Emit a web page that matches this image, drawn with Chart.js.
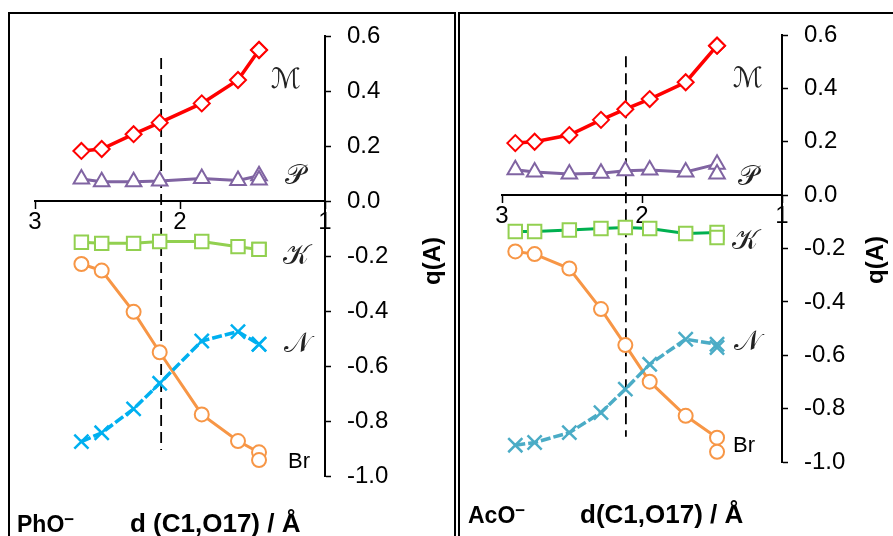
<!DOCTYPE html>
<html>
<head>
<meta charset="utf-8">
<script src="https://cdn.jsdelivr.net/npm/chart.js@4"></script>
<style>
  body { margin: 0; background: #fff; width: 893px; height: 536px; overflow: hidden; position: relative; font-family: "Liberation Sans", Arial, sans-serif; }
  .panel { position: absolute; top: 12px; border: 2px solid #000; border-bottom: none; height: 540px; box-sizing: border-box; }
  .panel canvas { position: absolute; left: 0; top: 0; }
  .txt { position: absolute; white-space: nowrap; line-height: 1; color: #000; }
  .bold { font-weight: bold; }
  .c { transform: translate(-50%, -50%); }
  .script { font-family: "DejaVu Serif", "DejaVu Sans", serif; font-size: 28px; color: #222; }
  .br { font-size: 22px; }
  .ytitle { font-weight: bold; font-size: 24px; transform: translate(-50%, -50%) rotate(-90deg); }
  sup { font-size: 17px; vertical-align: 7px; line-height: 0; }
</style>
</head>
<body>
<div class="panel" id="pLeft" style="left:8px; width:448px;">
  <canvas id="cLeft" width="444" height="524"></canvas>
</div>
<div class="panel" id="pRight" style="left:458px; width:450px; border-right:none;">
  <canvas id="cRight" width="446" height="524"></canvas>
</div>

<!-- rotulos das series -->
<span class="txt script c" style="left:286px; top:79px;">ℳ</span>
<span class="txt script c" style="left:295px; top:175px;">𝒫</span>
<span class="txt script c" style="left:296px; top:255px;">𝒦</span>
<span class="txt script c" style="left:297px; top:343px;">𝒩</span>
<span class="txt br c" style="left:299px; top:461px;">Br</span>

<span class="txt script c" style="left:748px; top:78px;">ℳ</span>
<span class="txt script c" style="left:748px; top:176px;">𝒫</span>
<span class="txt script c" style="left:745px; top:240px;">𝒦</span>
<span class="txt script c" style="left:747px; top:341px;">𝒩</span>
<span class="txt br c" style="left:744px; top:445px;">Br</span>

<span class="txt ytitle" style="left:432px; top:261px;">q(A)</span>
<span class="txt ytitle" style="left:875px; top:260px;">q(A)</span>

<span class="txt bold" style="left:17px; top:513px; font-size:23px;">PhO<sup>−</sup></span>
<span class="txt bold" style="left:130px; top:510px; font-size:26px;">d (C1,O17) / Å</span>
<span class="txt bold" style="left:468px; top:504px; font-size:23px;">AcO<sup>−</sup></span>
<span class="txt bold" style="left:580px; top:501px; font-size:26px;">d(C1,O17) / Å</span>

<script>
// PhO- : distancias e cargas
const phoX  = [2.68, 2.54, 2.32, 2.14, 1.85, 1.60, 1.455, 1.455];
const phoM  = [0.182, 0.189, 0.243, 0.285, 0.355, 0.440, 0.549, 0.549];
const phoP  = [0.080, 0.070, 0.070, 0.073, 0.082, 0.075, 0.092, 0.076];
const phoK  = [-0.150, -0.154, -0.154, -0.147, -0.147, -0.166, -0.176, -0.176];
const phoN  = [-0.875, -0.843, -0.756, -0.663, -0.509, -0.475, -0.521, -0.521];
const phoBr = [-0.229, -0.253, -0.403, -0.550, -0.776, -0.873, -0.914, -0.942];
const phoTS = 2.13;

// AcO- : distancias e cargas
const acoX  = [2.905, 2.767, 2.519, 2.293, 2.119, 1.945, 1.688, 1.464, 1.464];
const acoM  = [0.195, 0.200, 0.225, 0.282, 0.322, 0.360, 0.423, 0.560, 0.560];
const acoP  = [0.095, 0.087, 0.079, 0.082, 0.091, 0.094, 0.087, 0.116, 0.079];
const acoK  = [-0.136, -0.136, -0.131, -0.125, -0.121, -0.125, -0.144, -0.140, -0.159];
const acoN  = [-0.937, -0.927, -0.890, -0.815, -0.727, -0.634, -0.540, -0.559, -0.571];
const acoBr = [-0.211, -0.221, -0.275, -0.427, -0.562, -0.699, -0.827, -0.909, -0.962];
const acoTS = 2.115;

const dashTop = 0.52, dashBottom = -0.905;
const xTicks = [3, 2, 1];
const yMin = -1.0, yMax = 0.6, yStep = 0.2;

function pts(xs, ys) {
  return xs.map((x, i) => ({ x: x, y: ys[i] }));
}

function serie(xs, ys, cor, estilo, raio, extra) {
  return Object.assign({
    data: pts(xs, ys),
    borderColor: cor,
    backgroundColor: '#fff',
    pointBorderColor: cor,
    pointBackgroundColor: '#fff',
    pointStyle: estilo,
    pointRadius: raio,
    pointBorderWidth: 2,
    borderWidth: 3.5,
    showLine: true,
    tension: 0
  }, extra || {});
}

function criaGrafico(id, xs, d, ts, cores, pad) {
  const datasets = [
    serie(xs, d.M, '#ff0000', 'rectRot', 8),
    serie(xs, d.P, '#8064a2', 'triangle', 9, { borderWidth: 3 }),
    serie(xs, d.K, cores.kLine, 'rect', 9.5, { pointBorderColor: '#92d050', borderWidth: 3 }),
    serie(xs.slice(0, d.N.length), d.N, cores.n, 'crossRot', 10, { borderDash: [10, 3], pointBorderWidth: 2.5 }),
    serie(xs, d.Br, '#f79646', 'circle', 7, { borderWidth: 3 }),
    {
      data: [{ x: ts, y: dashTop }, { x: ts, y: dashBottom }],
      borderColor: '#000',
      borderWidth: 1.8,
      borderDash: [11, 6],
      pointRadius: 0,
      showLine: true
    }
  ];

  return new Chart(document.getElementById(id), {
    type: 'scatter',
    data: { datasets: datasets },
    options: {
      responsive: false,
      animation: false,
      layout: { padding: pad },
      plugins: { legend: { display: false }, tooltip: { enabled: false } },
      scales: {
        x: {
          type: 'linear',
          reverse: true,
          min: 1,
          max: 3,
          position: { y: 0 },
          afterBuildTicks: s => { s.ticks = xTicks.map(v => ({ value: v })); },
          afterFit: s => { s.paddingLeft = 0; s.paddingRight = 0; },
          grid: { drawOnChartArea: false, drawTicks: true, tickLength: 7, color: '#000', tickWidth: 1.5 },
          border: { display: true, color: '#000', width: 2 },
          ticks: {
            color: '#000',
            padding: 2,
            maxRotation: 0,
            font: { family: 'Liberation Sans', size: 24, lineHeight: 1 },
            callback: v => String(v)
          }
        },
        y: {
          type: 'linear',
          position: 'right',
          min: yMin,
          max: yMax,
          afterFit: s => { s.width = 70; s.paddingTop = 0; s.paddingBottom = 0; },
          grid: { drawOnChartArea: false, drawTicks: true, tickLength: 6, color: '#000', tickWidth: 1.5 },
          border: { display: true, color: '#000', width: 2 },
          ticks: {
            stepSize: yStep,
            color: '#000',
            padding: 16,
            font: { family: 'Liberation Sans', size: 24, lineHeight: 1 },
            callback: v => Math.abs(v) < 1e-9 ? '0.0' : Number(v).toFixed(1)
          }
        }
      }
    }
  });
}

criaGrafico('cLeft', phoX,
  { M: phoM, P: phoP, K: phoK, N: phoN, Br: phoBr }, phoTS,
  { kLine: '#92d050', n: '#00b0f0' },
  { left: 25, top: 22, bottom: 62, right: 444 - 315 - 70 });

criaGrafico('cRight', acoX,
  { M: acoM, P: acoP, K: acoK, N: acoN, Br: acoBr }, acoTS,
  { kLine: '#00b050', n: '#4bacc6' },
  { left: 42, top: 21, bottom: 76, right: 446 - 322 - 70 });
</script>
</body>
</html>
